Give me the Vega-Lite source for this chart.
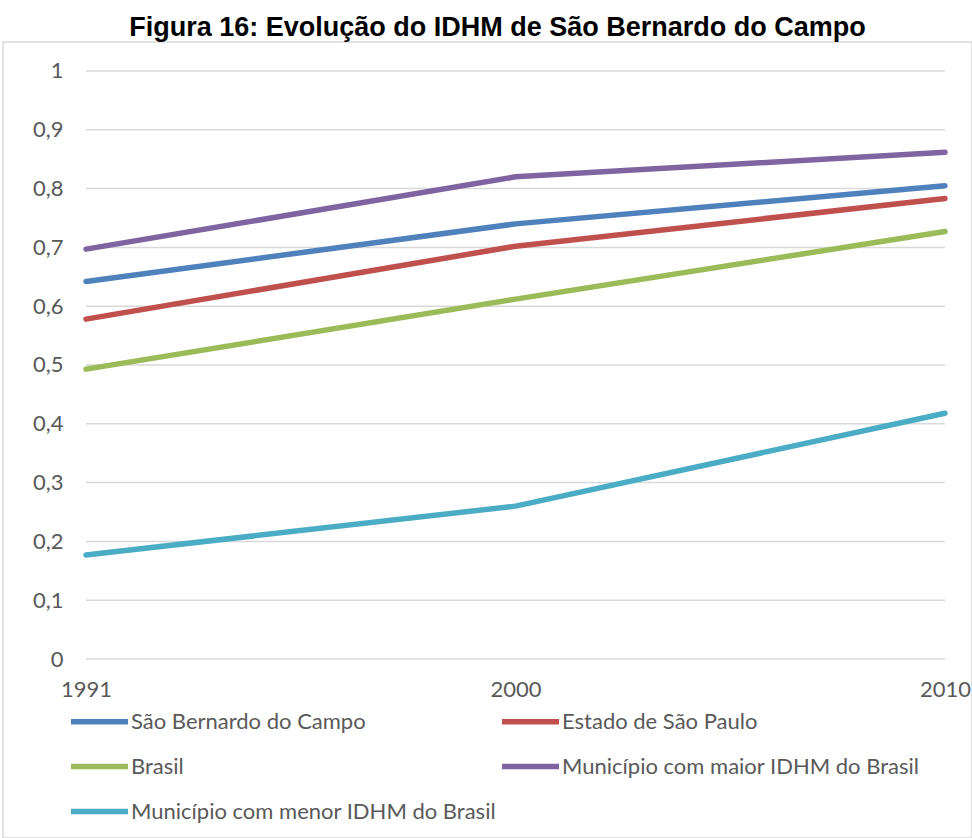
{
  "$schema": "https://vega.github.io/schema/vega-lite/v6.json",
  "width": 969,
  "height": 796,
  "autosize": {"type": "none"},
  "padding": {"left": 3, "top": 42, "right": 0, "bottom": 0},
  "background": "white",
  "title": {
    "text": "Figura 16: Evolução do IDHM de São Bernardo do Campo",
    "font": "Liberation Sans",
    "fontSize": 27,
    "fontWeight": "bold",
    "color": "#000000",
    "anchor": "middle",
    "dx": 10,
    "offset": 0
  },
  "config": {
    "view": {"stroke": "#D9D9D9", "strokeWidth": 1.5},
    "font": "Lato"
  },
  "datasets": {
    "grid": [{"g": 0}, {"g": 0.1}, {"g": 0.2}, {"g": 0.3}, {"g": 0.4}, {"g": 0.5}, {"g": 0.6}, {"g": 0.7}, {"g": 0.8}, {"g": 0.9}, {"g": 1}],
    "idhm": [
      {"ano": "1991", "serie": "São Bernardo do Campo", "valor": 0.642},
      {"ano": "2000", "serie": "São Bernardo do Campo", "valor": 0.740},
      {"ano": "2010", "serie": "São Bernardo do Campo", "valor": 0.805},
      {"ano": "1991", "serie": "Estado de São Paulo", "valor": 0.578},
      {"ano": "2000", "serie": "Estado de São Paulo", "valor": 0.702},
      {"ano": "2010", "serie": "Estado de São Paulo", "valor": 0.783},
      {"ano": "1991", "serie": "Brasil", "valor": 0.493},
      {"ano": "2000", "serie": "Brasil", "valor": 0.612},
      {"ano": "2010", "serie": "Brasil", "valor": 0.727},
      {"ano": "1991", "serie": "Município com maior IDHM do Brasil", "valor": 0.697},
      {"ano": "2000", "serie": "Município com maior IDHM do Brasil", "valor": 0.820},
      {"ano": "2010", "serie": "Município com maior IDHM do Brasil", "valor": 0.862},
      {"ano": "1991", "serie": "Município com menor IDHM do Brasil", "valor": 0.177},
      {"ano": "2000", "serie": "Município com menor IDHM do Brasil", "valor": 0.260},
      {"ano": "2010", "serie": "Município com menor IDHM do Brasil", "valor": 0.418}
    ]
  },
  "layer": [
    {
      "data": {"name": "grid"},
      "mark": {"type": "rule", "color": "#D9D9D9", "strokeWidth": 1.5},
      "encoding": {
        "y": {"field": "g", "type": "quantitative", "scale": {"domain": [-0.3044, 1.0493], "nice": false, "zero": false}},
        "x": {"datum": "1991", "type": "ordinal"},
        "x2": {"datum": "2010"}
      }
    },
    {
      "data": {"name": "idhm"},
      "mark": {"type": "line", "strokeWidth": 5.5, "strokeCap": "round", "strokeJoin": "round"},
      "encoding": {
        "x": {
          "field": "ano", "type": "ordinal",
          "scale": {"type": "point", "domain": ["1991", "2000", "2010"], "range": [83, 942], "padding": 0},
          "axis": {
            "title": null, "domain": false, "ticks": false, "tickSize": 0, "grid": false,
            "labelAngle": 0, "labelPadding": -149, "labelFont": "Lato", "labelFontSize": 22,
            "labelColor": "#595959", "labelAlign": "center"
          }
        },
        "y": {
          "field": "valor", "type": "quantitative",
          "scale": {"domain": [-0.3044, 1.0493], "nice": false, "zero": false},
          "axis": {
            "title": null, "domain": false, "ticks": false, "tickSize": 0, "grid": false,
            "values": [0, 0.1, 0.2, 0.3, 0.4, 0.5, 0.6, 0.7, 0.8, 0.9, 1],
            "labelExpr": "replace(format(datum.value, '.1~f'), '.', ',')",
            "labelPadding": -60, "labelFont": "Lato", "labelFontSize": 22, "labelColor": "#595959"
          }
        },
        "color": {
          "field": "serie", "type": "nominal",
          "scale": {
            "domain": ["São Bernardo do Campo", "Estado de São Paulo", "Brasil", "Município com maior IDHM do Brasil", "Município com menor IDHM do Brasil"],
            "range": ["#4F81BD", "#C0504D", "#9BBB59", "#8064A2", "#4BACC6"]
          },
          "legend": {
            "title": null, "orient": "none", "direction": "horizontal", "legendX": 65, "legendY": 648,
            "columns": 2, "columnPadding": -6, "rowPadding": 2,
            "symbolType": "stroke", "symbolSize": 3249, "symbolStrokeWidth": 5.5,
            "labelFont": "Lato", "labelFontSize": 22, "labelColor": "#595959", "labelOffset": 0,
            "labelLimit": 500
          }
        }
      }
    }
  ]
}
